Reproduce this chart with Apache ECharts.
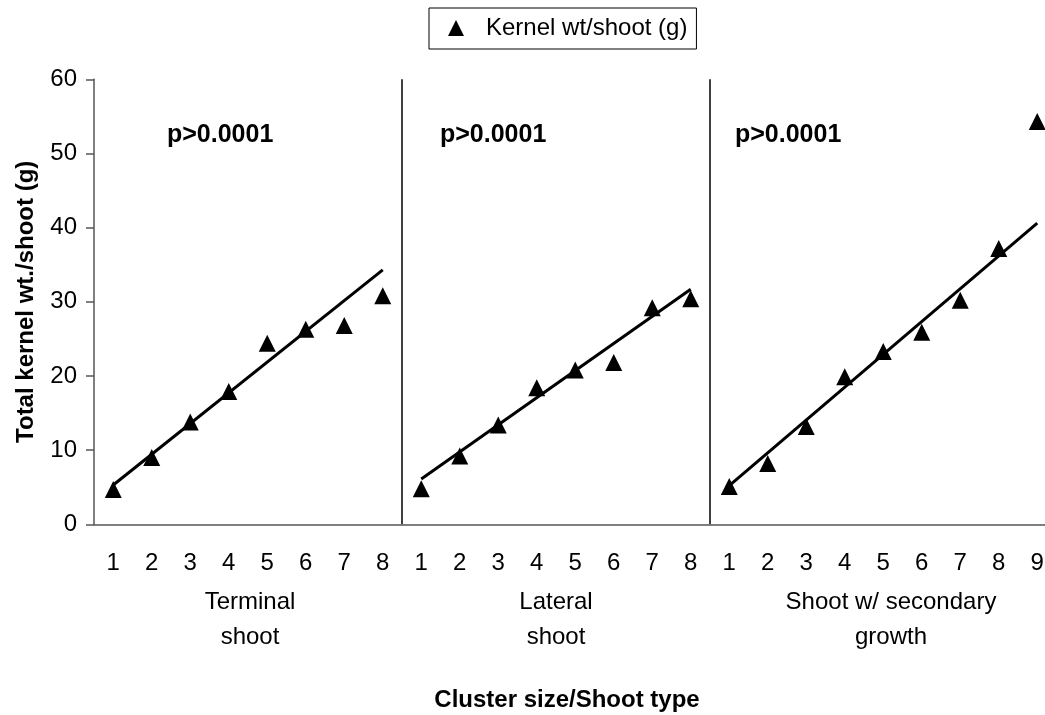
<!DOCTYPE html>
<html>
<head>
<meta charset="utf-8">
<script src="https://cdn.jsdelivr.net/npm/echarts@6/dist/echarts.min.js"></script>
<style>html,body{margin:0;padding:0;background:#fff}#c{width:1045px;height:715px}</style>
</head>
<body>
<div id="c"></div>
<script>
// ---- data ----
const terminalLabels = ['1','2','3','4','5','6','7','8'];
const lateralLabels = ['1','2','3','4','5','6','7','8'];
const secondaryLabels = ['1','2','3','4','5','6','7','8','9'];
const terminalValues = [4.7, 9.0, 13.8, 17.9, 24.4, 26.3, 26.8, 30.8];
const lateralValues = [4.8, 9.2, 13.4, 18.4, 20.8, 21.8, 29.2, 30.4];
const secondaryValues = [5.1, 8.2, 13.2, 19.9, 23.3, 25.9, 30.2, 37.2, 54.3];
// trend line endpoints: [start, end]
const terminalTrend = [5.3, 34.3];
const lateralTrend = [6.1, 31.7];
const secondaryTrend = [5.2, 40.6];
const groupNames = ['Terminal\nshoot', 'Lateral\nshoot', 'Shoot w/ secondary\ngrowth'];
const pLabel = 'p>0.0001';
const yTicks = {min: 0, max: 60, interval: 10};
const seriesName = 'Kernel wt/shoot (g)';
const yTitle = 'Total kernel wt./shoot (g)';
const xTitle = 'Cluster size/Shoot type';

// ---- build ----
const categories = terminalLabels.concat(lateralLabels, secondaryLabels);
const groups = [terminalValues, lateralValues, secondaryValues];
const trends = [terminalTrend, lateralTrend, secondaryTrend];
const points = [];
const trendSeries = [];
let offset = 0;
groups.forEach((vals, g) => {
  vals.forEach((v, i) => points.push([offset + i, v]));
  trendSeries.push({
    type: 'line', symbol: 'none', silent: true, z: 3,
    lineStyle: {color: '#000', width: 3},
    data: [[offset, trends[g][0]], [offset + vals.length - 1, trends[g][1]]]
  });
  offset += vals.length;
});
const boundaries = [terminalLabels.length, terminalLabels.length + lateralLabels.length];

const FF = 'Liberation Sans, Arial, Helvetica, sans-serif';
const chart = echarts.init(document.getElementById('c'), null, {renderer: 'canvas'});
chart.setOption({
  animation: false,
  backgroundColor: '#fff',
  textStyle: {fontFamily: FF, color: '#000'},
  grid: {left: 94, top: 79.3, width: 962.5, height: 445, containLabel: false, outerBoundsMode: 'none'},
  legend: {
    data: [seriesName], left: 429, top: 8,
    icon: 'triangle', itemWidth: 16, itemHeight: 16,
    borderColor: '#000', borderWidth: 1,
    padding: [8, 9, 9, 19],
    itemStyle: {opacity: 1},
    textStyle: {fontSize: 24, fontFamily: FF, color: '#000', padding: [0, 0, 0, 17]}
  },
  xAxis: {
    type: 'category', data: categories, boundaryGap: true,
    axisLine: {lineStyle: {color: '#555', width: 1.5}},
    axisTick: {length: 8, lineStyle: {color: '#555', width: 1.5}, interval: 0},
    axisLabel: {interval: 0, margin: 27, fontSize: 24, color: '#000', fontFamily: FF},
    splitLine: {show: true, interval: (idx) => boundaries.indexOf(idx) >= 0, lineStyle: {color: '#000', width: 1.5}}
  },
  yAxis: {
    type: 'value', min: yTicks.min, max: yTicks.max, interval: yTicks.interval,
    name: yTitle, nameLocation: 'middle', nameGap: 56,
    nameTextStyle: {fontSize: 24, fontWeight: 'bold', color: '#000', fontFamily: FF},
    axisLine: {show: true, lineStyle: {color: '#555', width: 1.5}},
    axisTick: {show: true, length: 8, lineStyle: {color: '#555', width: 1.5}},
    axisLabel: {margin: 17, fontSize: 24, color: '#000', fontFamily: FF},
    splitLine: {show: false}
  },
  series: trendSeries.concat([{
    name: seriesName, type: 'scatter', symbol: 'triangle', symbolSize: 17, z: 4,
    itemStyle: {color: '#000', opacity: 1},
    data: points
  }]),
  graphic: [
    {type: 'text', x: 167, y: 135, style: {text: pLabel, font: 'bold 25px ' + FF, fill: '#000', textVerticalAlign: 'middle'}},
    {type: 'text', x: 440, y: 135, style: {text: pLabel, font: 'bold 25px ' + FF, fill: '#000', textVerticalAlign: 'middle'}},
    {type: 'text', x: 735, y: 135, style: {text: pLabel, font: 'bold 25px ' + FF, fill: '#000', textVerticalAlign: 'middle'}},
    {type: 'text', x: 250, y: 620, style: {text: groupNames[0], font: '24px ' + FF, lineHeight: 35, fill: '#000', textAlign: 'center', textVerticalAlign: 'middle'}},
    {type: 'text', x: 556, y: 620, style: {text: groupNames[1], font: '24px ' + FF, lineHeight: 35, fill: '#000', textAlign: 'center', textVerticalAlign: 'middle'}},
    {type: 'text', x: 891, y: 620, style: {text: groupNames[2], font: '24px ' + FF, lineHeight: 35, fill: '#000', textAlign: 'center', textVerticalAlign: 'middle'}},
    {type: 'text', x: 567, y: 700, style: {text: xTitle, font: 'bold 24px ' + FF, fill: '#000', textAlign: 'center', textVerticalAlign: 'middle'}}
  ]
});
</script>
</body>
</html>
